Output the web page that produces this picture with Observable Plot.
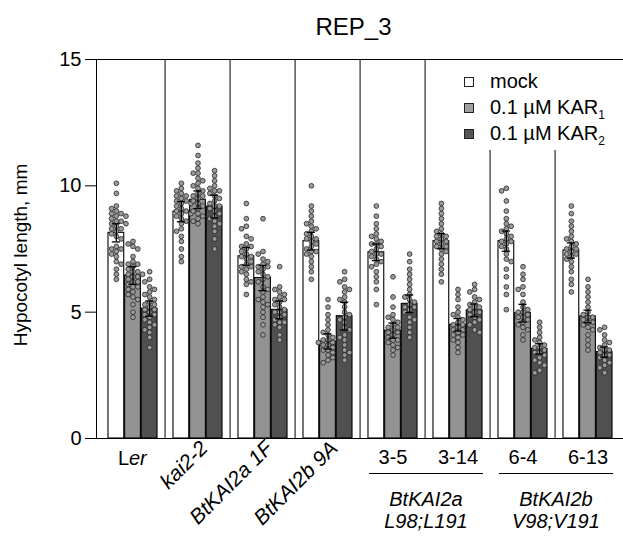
<!DOCTYPE html>
<html>
<head>
<meta charset="utf-8">
<script src="https://cdn.jsdelivr.net/npm/d3@7"></script>
<script src="https://cdn.jsdelivr.net/npm/@observablehq/plot@0.6"></script>
<style>
  html, body { margin: 0; padding: 0; background: #fff; }
  #wrap { position: relative; width: 623px; height: 537px; font-family: "Liberation Sans", Arial, Helvetica, sans-serif; color: #000; }
  #title { position: absolute; left: 0; top: 15px; width: 623px; padding-left: 84px; box-sizing: border-box; text-align: center; font-size: 24px; line-height: 24px; }
  #chart { position: absolute; left: 0; top: 0; }
  .leg { position: absolute; left: 490px; font-size: 20px; line-height: 20px; white-space: nowrap; }
  .sw { position: absolute; left: 464px; width: 8px; height: 8px; border: 1px solid #222; }
  .leg sub { font-size: 12px; vertical-align: -5px; line-height: 0; }
</style>
</head>
<body>
<div id="wrap">
  <div id="chart"></div>
  <div id="title">REP_3</div>
  <div class="sw" style="top:77px; background:#fff"></div>
  <div class="leg" style="top:71px">mock</div>
  <div class="sw" style="top:103px; background:#a0a0a0"></div>
  <div class="leg" style="top:97px">0.1 µM KAR<sub>1</sub></div>
  <div class="sw" style="top:129px; background:#555"></div>
  <div class="leg" style="top:123px">0.1 µM KAR<sub>2</sub></div>
</div>
<script>
// ---------------- data ----------------
const groups = ["Ler", "kai2-2", "BtKAI2a 1F", "BtKAI2b 9A", "3-5", "3-14", "6-4", "6-13"];
const treatments = ["mock", "KAR1", "KAR2"];

const meanMock = [8.14, 8.98, 7.21, 7.81, 7.37, 7.81, 7.81, 7.44];
const meanKar1 = [6.45, 9.45, 6.35, 3.84, 4.27, 4.50, 4.96, 4.83];
const meanKar2 = [5.14, 9.18, 5.09, 4.84, 5.33, 5.07, 3.55, 3.42];

const errMock = [0.36, 0.40, 0.35, 0.35, 0.33, 0.30, 0.40, 0.30];
const errKar1 = [0.35, 0.35, 0.50, 0.30, 0.30, 0.25, 0.35, 0.25];
const errKar2 = [0.30, 0.45, 0.35, 0.55, 0.35, 0.25, 0.20, 0.20];

const ptsMock = [
  [10.1, 9.7, 9.1, 9.0, 8.9, 8.8, 8.9, 8.7, 8.6, 8.5, 8.5, 8.4, 8.3, 8.3, 8.2, 8.1, 8.0, 7.9, 7.6, 7.5, 7.5, 7.4, 7.3, 7.2, 7.0, 6.9, 6.7, 6.5, 6.3, 8.6, 8.8, 9.2],
  [10.1, 9.9, 9.8, 9.7, 9.6, 9.5, 9.4, 9.4, 9.3, 9.2, 9.1, 9.0, 9.0, 8.9, 8.8, 8.7, 8.6, 8.5, 8.3, 8.2, 8.0, 7.8, 7.5, 7.2, 9.6, 9.3, 8.9, 7.0],
  [9.3, 8.7, 8.4, 8.3, 8.0, 7.9, 7.7, 7.6, 7.5, 7.4, 7.3, 7.2, 7.1, 7.0, 6.9, 6.8, 6.7, 6.6, 6.5, 6.3, 6.1, 5.7, 7.6, 7.2, 6.8, 6.2],
  [10.0, 9.2, 9.0, 8.8, 8.6, 8.4, 8.3, 8.2, 8.1, 8.0, 7.9, 7.8, 7.7, 7.6, 7.5, 7.4, 7.3, 7.2, 7.0, 6.8, 6.6, 6.3, 8.5, 7.9, 7.4],
  [9.2, 8.8, 8.5, 8.3, 8.1, 8.0, 7.9, 7.8, 7.7, 7.6, 7.5, 7.4, 7.3, 7.2, 7.1, 7.0, 6.8, 6.6, 6.4, 6.2, 5.9, 5.3, 7.7, 7.3, 6.9],
  [9.3, 9.1, 8.9, 8.7, 8.5, 8.3, 8.2, 8.1, 8.0, 7.9, 7.8, 7.7, 7.6, 7.5, 7.4, 7.3, 7.1, 6.9, 6.7, 6.5, 6.2, 8.0, 7.8, 7.6],
  [9.9, 9.8, 9.4, 9.0, 8.7, 8.5, 8.4, 8.2, 8.1, 8.0, 7.9, 7.8, 7.7, 7.6, 7.5, 7.3, 7.1, 7.0, 6.7, 6.4, 6.0, 5.7, 5.1, 8.3, 7.8],
  [9.2, 8.9, 8.6, 8.4, 8.2, 8.0, 7.9, 7.8, 7.7, 7.6, 7.5, 7.4, 7.3, 7.2, 7.1, 7.0, 6.8, 6.6, 6.3, 6.1, 5.8, 7.5, 7.3]
];
const ptsKar1 = [
  [7.8, 7.6, 7.5, 7.2, 7.0, 6.9, 6.8, 6.7, 6.6, 6.5, 6.5, 6.4, 6.4, 6.3, 6.2, 6.2, 6.1, 6.0, 5.9, 5.8, 5.7, 5.5, 5.3, 5.0, 4.8, 7.7, 6.6, 6.0, 5.6, 6.9],
  [11.6, 11.2, 10.9, 10.7, 10.5, 10.3, 10.2, 10.1, 10.0, 9.9, 9.8, 9.7, 9.6, 9.5, 9.4, 9.3, 9.2, 9.1, 9.0, 8.9, 8.8, 8.6, 8.5, 10.5, 9.6, 8.7],
  [8.7, 7.4, 7.3, 7.1, 7.0, 6.9, 6.8, 6.7, 6.6, 6.5, 6.3, 6.2, 6.0, 5.8, 5.6, 5.5, 5.4, 5.3, 5.2, 5.0, 4.8, 4.5, 4.1, 6.8, 6.4, 5.9],
  [5.5, 5.2, 4.9, 4.7, 4.5, 4.2, 4.1, 4.0, 3.9, 3.9, 3.8, 3.7, 3.7, 3.6, 3.5, 3.4, 3.3, 3.2, 3.1, 3.0, 3.8, 3.5, 4.3],
  [6.4, 5.6, 5.2, 4.9, 4.8, 4.6, 4.5, 4.4, 4.3, 4.2, 4.1, 4.0, 3.9, 3.8, 3.7, 3.6, 3.5, 3.3, 4.7, 4.2, 3.9, 4.4],
  [5.9, 5.7, 5.5, 5.2, 5.0, 4.9, 4.8, 4.7, 4.6, 4.5, 4.4, 4.3, 4.2, 4.1, 4.0, 3.9, 3.8, 3.6, 3.4, 4.5, 4.3, 4.1],
  [6.8, 6.5, 6.3, 6.0, 5.7, 5.4, 5.2, 5.1, 5.0, 4.9, 4.8, 4.7, 4.6, 4.5, 4.4, 4.3, 4.1, 3.9, 5.0, 4.8, 5.9],
  [6.3, 6.0, 5.8, 5.6, 5.4, 5.2, 5.0, 4.9, 4.8, 4.7, 4.6, 4.5, 4.4, 4.3, 4.1, 3.9, 3.7, 3.5, 4.8, 4.6]
];
const ptsKar2 = [
  [6.6, 6.3, 6.2, 6.0, 5.8, 5.7, 5.6, 5.5, 5.4, 5.3, 5.2, 5.1, 5.1, 5.0, 4.9, 4.8, 4.7, 4.6, 4.5, 4.3, 4.2, 4.0, 3.6, 5.9, 5.3, 4.9, 4.4],
  [10.6, 10.4, 10.2, 10.0, 9.9, 9.8, 9.7, 9.6, 9.5, 9.4, 9.3, 9.2, 9.1, 9.0, 8.9, 8.8, 8.7, 8.6, 8.4, 8.2, 7.9, 7.5, 9.8, 9.2, 8.5],
  [6.8, 6.0, 5.9, 5.8, 5.7, 5.6, 5.5, 5.4, 5.3, 5.2, 5.1, 5.0, 4.9, 4.8, 4.7, 4.6, 4.5, 4.4, 4.1, 3.9, 5.5, 5.0, 4.6],
  [6.6, 6.3, 6.2, 6.0, 5.9, 5.8, 5.6, 5.4, 5.2, 5.0, 4.9, 4.8, 4.6, 4.4, 4.3, 4.1, 3.9, 3.7, 3.5, 3.3, 3.1, 5.5, 4.7, 4.0, 3.4],
  [7.3, 7.0, 6.7, 6.5, 6.3, 6.1, 5.9, 5.7, 5.5, 5.4, 5.3, 5.2, 5.1, 5.0, 4.8, 4.6, 4.4, 4.2, 4.0, 5.6, 5.2, 4.7],
  [6.1, 5.9, 5.8, 5.6, 5.5, 5.4, 5.3, 5.2, 5.1, 5.0, 4.9, 4.8, 4.7, 4.6, 4.5, 4.3, 4.2, 5.2, 5.0],
  [4.6, 4.4, 4.2, 4.0, 3.9, 3.8, 3.7, 3.6, 3.5, 3.4, 3.3, 3.2, 3.1, 3.0, 2.9, 2.7, 2.6, 3.6, 3.4],
  [4.4, 4.3, 4.1, 3.9, 3.8, 3.7, 3.6, 3.5, 3.4, 3.3, 3.2, 3.1, 3.0, 2.9, 2.8, 2.6, 3.5, 3.3]
];

const yTicks = [0, 5, 10, 15];
const yLabel = "Hypocotyl length, mm";
const rotatedLabels = ["kai2-2", "BtKAI2a 1F", "BtKAI2b 9A"];
const lineLabels = ["3-5", "3-14", "6-4", "6-13"];
const bracketLabels = [
  {first: "3-5", last: "3-14", text: "BtKAI2a\nL98;L191"},
  {first: "6-4", last: "6-13", text: "BtKAI2b\nV98;V191"}
];

// ---------------- layout ----------------
const W = 623, H = 537, mL = 96, mR = 0, mT = 59, mB = 99;
const bw = (W - mL - mR) / groups.length;
const pad = bw * 8 / 66;
const barW = (bw - 2 * pad) / 3;
const pxPerUnit = (H - mT - mB) / 15;
const fills = ["#ffffff", "#939393", "#505050"];
const FONT = "Liberation Sans, Arial, Helvetica, sans-serif";

const means = [meanMock, meanKar1, meanKar2];
const errs = [errMock, errKar1, errKar2];
const pts = [ptsMock, ptsKar1, ptsKar2];

const bars = [];
groups.forEach((g, gi) => treatments.forEach((t, ti) => {
  bars.push({group: g, t: ti, mean: means[ti][gi], lo: means[ti][gi] - errs[ti][gi], hi: means[ti][gi] + errs[ti][gi]});
}));

// simple beeswarm: assign each point to a discrete column so dots do not stack
const STEP = 4.8, DIAM = 5;
function swarm(values) {
  const placed = [];
  const cols = new Array(values.length);
  const order = values.map((v, i) => i).sort((a, b) => values[b] - values[a]);
  let side = 1;
  for (const i of order) {
    const py = values[i] * pxPerUnit;
    const cands = [0, -side, side, -2 * side, 2 * side];
    let best = 0, bestD = -1;
    for (const k of cands) {
      let minD = Infinity;
      for (const p of placed) if (p.k === k) minD = Math.min(minD, Math.abs(p.py - py));
      if (minD >= DIAM) { best = k; bestD = Infinity; break; }
      if (minD > bestD) { bestD = minD; best = k; }
    }
    if (best !== 0) side = -side;
    placed.push({py, k: best});
    cols[i] = best;
  }
  return cols;
}

const dots = [];
groups.forEach((g, gi) => treatments.forEach((t, ti) => {
  const vals = pts[ti][gi];
  const cols = swarm(vals);
  vals.forEach((v, i) => dots.push({group: g, t: ti, value: v, k: cols[i]}));
}));

const marks = [];
// frame lines
marks.push(Plot.ruleY([15], {stroke: "#000", strokeWidth: 1}));
// separators
const fullSeps = groups.slice(1, 6);
const shortSeps = groups.slice(6);
marks.push(Plot.ruleX(fullSeps, {x: d => d, y1: 0, y2: 15, dx: -bw / 2, stroke: "#000", strokeWidth: 1}));
marks.push(Plot.ruleX(shortSeps, {x: d => d, y1: 0, y2: 11.4, dx: -bw / 2, stroke: "#000", strokeWidth: 1}));

// bars
treatments.forEach((t, ti) => {
  marks.push(Plot.barY(bars.filter(d => d.t === ti), {
    x: "group", y: "mean", fill: fills[ti], stroke: "#000", strokeWidth: 1.1,
    insetLeft: pad + ti * barW, insetRight: pad + (2 - ti) * barW
  }));
});

// dots
treatments.forEach((t, ti) => {
  for (let k = -2; k <= 2; k++) {
    marks.push(Plot.dot(dots.filter(d => d.t === ti && d.k === k), {
      x: "group", y: "value", dx: (ti - 1) * barW + k * STEP,
      r: 2.4, fill: "#9b9b9b", stroke: "#262626", strokeWidth: 0.8
    }));
  }
});

// error bars
const capInset = (bw - 9) / 2;
treatments.forEach((t, ti) => {
  const data = bars.filter(d => d.t === ti);
  const dx = (ti - 1) * barW;
  marks.push(Plot.ruleX(data, {x: "group", y1: "lo", y2: "hi", dx, stroke: "#000", strokeWidth: 1.3}));
  marks.push(Plot.tickY(data, {x: "group", y: "hi", dx, insetLeft: capInset, insetRight: capInset, stroke: "#000", strokeWidth: 1.3}));
  marks.push(Plot.tickY(data, {x: "group", y: "lo", dx, insetLeft: capInset, insetRight: capInset, stroke: "#000", strokeWidth: 1.3}));
});

marks.push(Plot.ruleY([0], {stroke: "#000", strokeWidth: 1}));

// y label
marks.push(Plot.text([yLabel], {frameAnchor: "left", rotate: -90, textAnchor: "middle", lineAnchor: "middle", dx: -76, dy: 6, fontSize: 19, fontFamily: FONT, fill: "#000"}));

// x labels
marks.push(Plot.text(["Ler"], {x: d => d, frameAnchor: "bottom", lineAnchor: "middle", text: () => "L", textAnchor: "end", dx: -4, dy: 20, fontSize: 20, fontFamily: FONT, fill: "#000"}));
marks.push(Plot.text(["Ler"], {x: d => d, frameAnchor: "bottom", lineAnchor: "middle", text: () => "er", textAnchor: "start", dx: -4, dy: 20, fontSize: 20, fontFamily: FONT, fontStyle: "italic", fill: "#000"}));
marks.push(Plot.text(rotatedLabels, {x: d => d, frameAnchor: "bottom", rotate: -45, textAnchor: "end", dx: 11, dy: 11, fontSize: 21, fontFamily: FONT, fontStyle: "italic", fill: "#000"}));
marks.push(Plot.text(lineLabels, {x: d => d, frameAnchor: "bottom", lineAnchor: "middle", dy: 19, fontSize: 20, fontFamily: FONT, fill: "#000"}));
marks.push(Plot.tickY(bracketLabels, {x: "first", y: () => 0, dy: 35, insetLeft: 9, stroke: "#000", strokeWidth: 1}));
marks.push(Plot.tickY(bracketLabels, {x: "last", y: () => 0, dy: 35, insetRight: 7, stroke: "#000", strokeWidth: 1}));
marks.push(Plot.text(bracketLabels, {x: "first", text: "text", frameAnchor: "bottom", lineAnchor: "middle", dx: bw / 2, dy: 71, lineHeight: 1.1, fontSize: 20, fontFamily: FONT, fontStyle: "italic", fill: "#000"}));

const chart = Plot.plot({
  width: W, height: H,
  marginLeft: mL, marginRight: mR, marginTop: mT, marginBottom: mB,
  style: {fontFamily: FONT, fontSize: "20px", color: "#000", background: "transparent"},
  x: {type: "band", domain: groups, padding: 0, axis: null},
  y: {domain: [0, 15], ticks: yTicks, tickSize: 11, tickPadding: 4, label: null, line: true},
  marks
});
document.getElementById("chart").appendChild(chart);
</script>
</body>
</html>
